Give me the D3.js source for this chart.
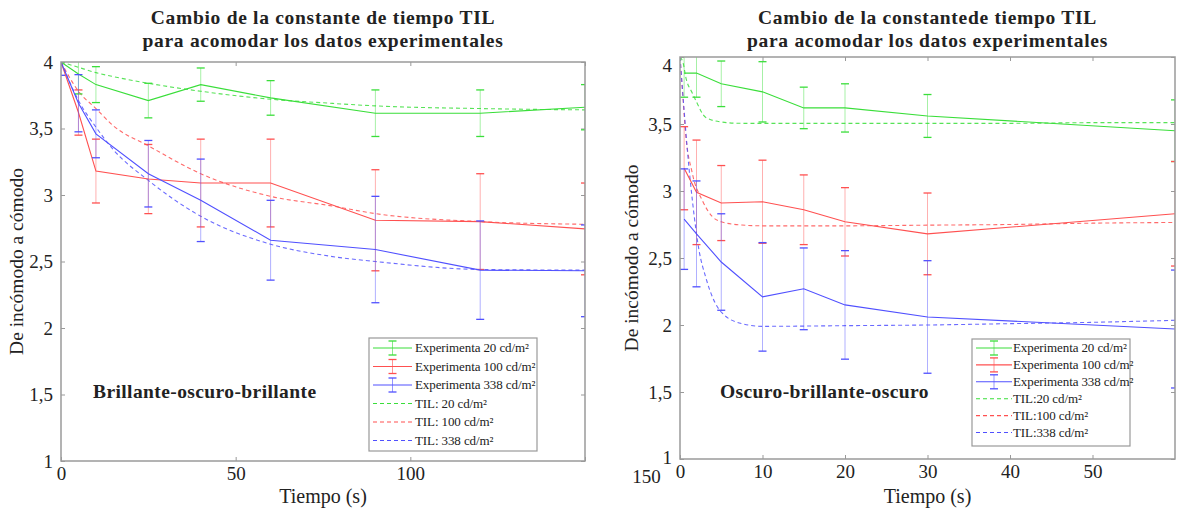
<!DOCTYPE html>
<html><head><meta charset="utf-8">
<script src="https://cdn.jsdelivr.net/npm/d3@7"></script>
<style>
body{margin:0;background:#fff;}
svg text{font-family:"Liberation Serif","Times New Roman",serif;fill:#222;}
</style></head>
<body><svg id="c" width="1178" height="508"></svg>
<script>
// ---------- LEFT PANEL DATA (Brillante-oscuro-brillante) ----------
const timeLeft = [0, 5, 10, 25, 40, 60, 90, 120, 150];
const exp20Left  = [4.0, 3.91, 3.83, 3.71, 3.83, 3.73, 3.615, 3.615, 3.66];
const err20Left  = [0, 0.15, 0.135, 0.13, 0.125, 0.13, 0.175, 0.175, 0.17];
const exp100Left = [4.0, 3.62, 3.18, 3.12, 3.09, 3.09, 2.81, 2.80, 2.745];
const err100Left = [0, 0.17, 0.24, 0.26, 0.33, 0.33, 0.38, 0.36, 0.345];
const exp338Left = [4.0, 3.69, 3.46, 3.16, 2.96, 2.66, 2.59, 2.435, 2.43];
const err338Left = [0.1, 0.215, 0.18, 0.25, 0.31, 0.30, 0.40, 0.37, 0.345];
const tilTimeLeft = [0, 5, 10, 15, 25, 40, 60, 77, 90, 120, 150];
const til20Left  = [4.0, 3.96, 3.92, 3.89, 3.84, 3.78, 3.72, 3.69, 3.67, 3.65, 3.64];
const til100Left = [4.0, 3.78, 3.65, 3.52, 3.37, 3.16, 2.99, 2.92, 2.86, 2.80, 2.78];
const til338Left = [4.0, 3.71, 3.51, 3.34, 3.11, 2.84, 2.63, 2.54, 2.50, 2.44, 2.435];

// ---------- RIGHT PANEL DATA (Oscuro-brillante-oscuro) ----------
const timeRight = [0.5, 2, 5, 10, 15, 20, 30, 60];
const exp20Right  = [3.88, 3.88, 3.80, 3.74, 3.62, 3.62, 3.56, 3.45];
const err20Right  = [0.18, 0.18, 0.17, 0.225, 0.155, 0.18, 0.16, 0.23];
const exp100Right = [3.17, 2.99, 2.91, 2.92, 2.86, 2.77, 2.68, 2.83];
const err100Right = [0.31, 0.39, 0.28, 0.31, 0.26, 0.255, 0.305, 0.39];
const exp338Right = [2.79, 2.68, 2.47, 2.21, 2.27, 2.15, 2.06, 1.97];
const err338Right = [0.375, 0.395, 0.36, 0.405, 0.305, 0.405, 0.42, 0.44];
const tilTime20Right = [0, 0.4, 0.7, 1.5, 2, 3.1, 5, 7.5, 10, 20, 30, 40, 50, 60];
const til20Right     = [4.0, 3.95, 3.85, 3.73, 3.665, 3.55, 3.515, 3.505, 3.505, 3.505, 3.505, 3.505, 3.51, 3.51];
const tilTime100Right = [0, 0.3, 0.65, 1.5, 2.7, 3.9, 5, 7.5, 10, 20, 30, 40, 50, 60];
const til100Right     = [4.0, 3.75, 3.45, 3.13, 2.93, 2.81, 2.77, 2.746, 2.74, 2.74, 2.745, 2.75, 2.76, 2.765];
const tilTime338Right = [0, 0.5, 0.9, 1.5, 2.3, 3.1, 4.3, 5.1, 7.5, 10, 20, 30, 40, 50, 60];
const til338Right     = [4.0, 3.6, 3.30, 2.93, 2.56, 2.36, 2.16, 2.09, 2.01, 1.99, 1.995, 2.0, 2.01, 2.02, 2.035];

// ---------- TEXT ----------
const yTicks = [1, 1.5, 2, 2.5, 3, 3.5, 4];
const xTicksLeft = [0, 50, 100, 150];
const xTicksRight = [0, 10, 20, 30, 40, 50];
const titleLeft = ["Cambio de la constante de tiempo TIL", "para acomodar los datos experimentales"];
const titleRight = ["Cambio de la constantede tiempo TIL", "para acomodar los datos experimentales"];
const yLabel = "De incómodo a cómodo";
const xLabel = "Tiempo (s)";
const legendLeft = ["Experimenta 20 cd/m²", "Experimenta 100 cd/m²", "Experimenta 338 cd/m²", "TIL: 20 cd/m²", "TIL: 100 cd/m²", "TIL: 338 cd/m²"];
const legendRight = ["Experimenta 20 cd/m²", "Experimenta 100 cd/m²", "Experimenta 338 cd/m²", "TIL:20 cd/m²", "TIL:100 cd/m²", "TIL:338 cd/m²"];

const colors = ["#3ade3a", "#ff5050", "#5050ff"];
const svg = d3.select("#c");
const fmt = d => String(d).replace(".", ",");

function panel(cfg) {
  const {x0, x1, y0, y1, xDomain, xTicks, id} = cfg;
  const x = d3.scaleLinear().domain(xDomain).range([x0, x1]);
  const y = d3.scaleLinear().domain([1, 4]).range([y1, y0]);
  const g = svg.append("g");
  g.append("clipPath").attr("id", id).append("rect")
    .attr("x", x0).attr("y", y0).attr("width", x1 - x0).attr("height", y1 - y0);

  // axes
  const ax = g.append("g").attr("transform", `translate(0,${y1})`)
    .call(d3.axisBottom(x).tickValues(xTicks).tickSize(-4).tickPadding(6).tickFormat(d3.format("d")));
  const axT = g.append("g").attr("transform", `translate(0,${y0})`)
    .call(d3.axisTop(x).tickValues(xTicks).tickSize(-4).tickFormat(""));
  const ay = g.append("g").attr("transform", `translate(${x0},0)`)
    .call(d3.axisLeft(y).tickValues(yTicks).tickSize(-4).tickPadding(8).tickFormat(fmt));
  const ayR = g.append("g").attr("transform", `translate(${x1},0)`)
    .call(d3.axisRight(y).tickValues(yTicks).tickSize(-4).tickFormat(""));
  [ax, axT, ay, ayR].forEach(a => {
    a.select(".domain").remove();
    a.selectAll("line").attr("stroke", "#999");
    a.selectAll("text").style("font-size", "19px").attr("fill", "#222")
      .style("font-family", '"Liberation Serif", serif');
  });
  cfg.after && cfg.after(ax, ay);

  // series
  const plot = g.append("g").attr("clip-path", `url(#${id})`);
  cfg.til.forEach((s, i) => {
    const pts = s.t.map((t, k) => [t, s.v[k]]);
    plot.append("path").datum(pts)
      .attr("d", d3.line().x(d => x(d[0])).y(d => y(d[1])).curve(d3.curveMonotoneX))
      .attr("fill", "none").attr("stroke", colors[i]).attr("stroke-width", 1.1)
      .attr("stroke-opacity", 0.85).attr("stroke-dasharray", "4,3");
  });
  cfg.exp.forEach((s, i) => {
    const pts = cfg.t.map((t, k) => ({t, v: s.v[k], e: s.e[k]}));
    plot.append("path").datum(pts)
      .attr("d", d3.line().x(d => x(d.t)).y(d => y(d.v)))
      .attr("fill", "none").attr("stroke", colors[i]).attr("stroke-width", 1.1);
    const eb = plot.append("g").selectAll("g").data(pts.filter(d => d.e > 0)).join("g")
      .attr("stroke", colors[i]);
    eb.append("line").attr("x1", d => x(d.t)).attr("x2", d => x(d.t))
      .attr("y1", d => y(d.v - d.e)).attr("y2", d => y(d.v + d.e)).attr("stroke-opacity", 0.45);
    eb.append("line").attr("x1", d => x(d.t) - 4).attr("x2", d => x(d.t) + 4)
      .attr("y1", d => y(d.v - d.e)).attr("y2", d => y(d.v - d.e)).attr("stroke-width", 1.3);
    eb.append("line").attr("x1", d => x(d.t) - 4).attr("x2", d => x(d.t) + 4)
      .attr("y1", d => y(d.v + d.e)).attr("y2", d => y(d.v + d.e)).attr("stroke-width", 1.3);
  });

  // frame
  g.append("rect").attr("x", x0).attr("y", y0).attr("width", x1 - x0).attr("height", y1 - y0)
    .attr("fill", "none").attr("stroke", "#9a9a9a").attr("stroke-width", 1.5);

  // titles and labels
  const cx = (x0 + x1) / 2;
  [0, 1].forEach(k => g.append("text").attr("x", cx).attr("y", 24 + k * 23).attr("text-anchor", "middle")
    .style("font-size", "19.5px").style("font-weight", "bold").style("letter-spacing", "0.7px")
    .text(cfg.title[k]));
  g.append("text").attr("x", cx).attr("y", 503).attr("text-anchor", "middle")
    .style("font-size", "20px").text(xLabel);
  g.append("text").attr("transform", `translate(${cfg.yLabX},${(y0 + y1) / 2}) rotate(-90)`)
    .attr("text-anchor", "middle").style("font-size", "19.5px").text(yLabel);
  g.append("text").attr("x", cfg.annX).attr("y", 398)
    .style("font-size", "19.5px").style("font-weight", "bold").style("letter-spacing", "0.4px").text(cfg.ann);

  // legend
  const L = cfg.legend;
  const lg = g.append("g");
  lg.append("rect").attr("x", L.x).attr("y", L.y).attr("width", L.w).attr("height", L.h)
    .attr("fill", "#fff").attr("stroke", "#999").attr("stroke-width", 1.2);
  cfg.legendText.forEach((txt, i) => {
    const yy = L.y + L.first + i * L.dy;
    const c = colors[i % 3];
    const line = lg.append("line").attr("x1", L.lx0).attr("x2", L.lx1).attr("y1", yy).attr("y2", yy)
      .attr("stroke", c).attr("stroke-width", 1.1);
    if (i >= 3) line.attr("stroke-dasharray", "4,3");
    else {
      const mx = (L.lx0 + L.lx1) / 2;
      lg.append("line").attr("x1", mx).attr("x2", mx).attr("y1", yy - 7).attr("y2", yy + 7)
        .attr("stroke", c).attr("stroke-opacity", 0.6);
      [-7, 7].forEach(o => lg.append("line").attr("x1", mx - 4).attr("x2", mx + 4)
        .attr("y1", yy + o).attr("y2", yy + o).attr("stroke", c).attr("stroke-width", 1.3));
    }
    lg.append("text").attr("x", L.tx).attr("y", yy + 4).style("font-size", "13px")
      .style("letter-spacing", "-0.1px").text(txt);
  });
}

panel({
  id: "clipL", x0: 61, x1: 585, y0: 62, y1: 461, xDomain: [0, 150], xTicks: xTicksLeft,
  t: timeLeft,
  exp: [{v: exp20Left, e: err20Left}, {v: exp100Left, e: err100Left}, {v: exp338Left, e: err338Left}],
  til: [{t: tilTimeLeft, v: til20Left}, {t: tilTimeLeft, v: til100Left}, {t: tilTimeLeft, v: til338Left}],
  title: titleLeft, yLabX: 23, ann: "Brillante-oscuro-brillante", annX: 93,
  legend: {x: 369, y: 338, w: 168, h: 113, first: 10, dy: 18.5, lx0: 373, lx1: 412, tx: 415},
  legendText: legendLeft,
  after: (ax) => { ax.selectAll(".tick").filter(d => d === 150).select("text").attr("dx", 61).attr("y", 9); }
});
panel({
  id: "clipR", x0: 680, x1: 1175, y0: 57, y1: 459, xDomain: [0, 60], xTicks: xTicksRight,
  t: timeRight,
  exp: [{v: exp20Right, e: err20Right}, {v: exp100Right, e: err100Right}, {v: exp338Right, e: err338Right}],
  til: [{t: tilTime20Right, v: til20Right}, {t: tilTime100Right, v: til100Right}, {t: tilTime338Right, v: til338Right}],
  title: titleRight, yLabX: 638, ann: "Oscuro-brillante-oscuro", annX: 720,
  legend: {x: 972, y: 339, w: 158, h: 107, first: 9, dy: 16.9, lx0: 976, lx1: 1012, tx: 1013},
  legendText: legendRight,
  after: (ax, ay) => {
    ay.selectAll(".tick").filter(d => d === 4).select("text").attr("dy", "0.32em").attr("y", 8);
    ay.selectAll(".tick").filter(d => d === 1).select("text").attr("y", -2);
  }
});
</script></body></html>
